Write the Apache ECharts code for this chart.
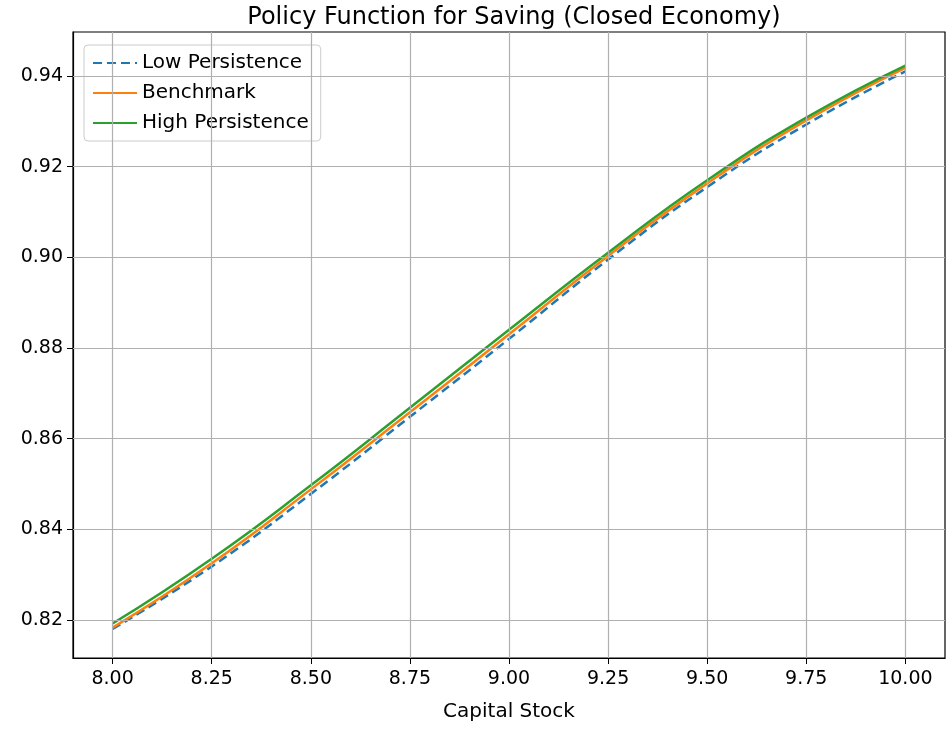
<!DOCTYPE html>
<html><head><meta charset="utf-8">
<script src="https://cdn.jsdelivr.net/npm/echarts@6/dist/echarts.min.js"></script>
<style>html,body{margin:0;padding:0;background:#fff}#c{width:950px;height:731px}</style>
</head><body><div id="c"></div>
<script>
const capital = [8.0, 8.25, 8.5, 8.75, 9.0, 9.25, 9.5, 9.75, 10.0];
const lowPersistence = [0.8180, 0.8318, 0.8478, 0.8648, 0.8820, 0.8995, 0.9155, 0.9293, 0.9410];
const benchmark = [0.8183, 0.8325, 0.8488, 0.8658, 0.8830, 0.9003, 0.9163, 0.9302, 0.9418];
const highPersistence = [0.8192, 0.8335, 0.8497, 0.8668, 0.8840, 0.9010, 0.9170, 0.9308, 0.9423];
const xTicks = ['8.00','8.25','8.50','8.75','9.00','9.25','9.50','9.75','10.00'];
const yTicks = [0.82,0.84,0.86,0.88,0.90,0.92,0.94];

const font = 'DejaVu Sans';
const mk = (name, ys, color, type) => ({
  name, type: 'line', smooth: true, symbol: 'none',
  data: capital.map((x, i) => [x, ys[i]]),
  lineStyle: { color, width: 2.5, type },
  itemStyle: { color }
});
const chart = echarts.init(document.getElementById('c'));
chart.setOption({
  animation: false,
  textStyle: { fontFamily: font },
  title: { text: 'Policy Function for Saving (Closed Economy)', left: 509, textAlign: 'center', top: 1,
    textStyle: { fontFamily: font, fontSize: 24, fontWeight: 'normal', color: '#000' } },
  grid: { left: 73, right: 5, top: 32, bottom: 73, show: true, borderColor: '#000', borderWidth: 1.2, backgroundColor: 'transparent' },
  legend: { orient: 'vertical', left: 84, top: 45, padding: [8, 12, 8, 8], itemGap: 10,
    borderColor: '#ccc', borderWidth: 1, borderRadius: 4, itemWidth: 44, itemHeight: 14,
    itemStyle: { opacity: 0 },
    textStyle: { fontFamily: font, fontSize: 20, color: '#000' },
    data: ['Low Persistence', 'Benchmark', 'High Persistence'] },
  xAxis: { type: 'value', min: 7.9, max: 10.1,
    name: 'Capital Stock', nameLocation: 'middle', nameGap: 44,
    nameTextStyle: { fontFamily: font, fontSize: 20, color: '#000' },
    axisLine: { onZero: false, lineStyle: { color: '#000', width: 1.2 } },
    axisTick: { show: true, length: 6, customValues: capital, lineStyle: { color: '#000' } },
    axisLabel: { fontFamily: font, fontSize: 19, color: '#000', margin: 12,
      customValues: capital, formatter: v => xTicks[Math.round((v - 8) / 0.25)] || '' },
    splitLine: { show: false } },
  yAxis: { type: 'value', min: 0.8116, max: 0.9497,
    axisLine: { show: true, lineStyle: { color: '#000', width: 1.2 } },
    axisTick: { show: true, length: 6, customValues: yTicks, lineStyle: { color: '#000' } },
    axisLabel: { fontFamily: font, fontSize: 19, color: '#000', margin: 10,
      customValues: yTicks, formatter: v => v.toFixed(2) },
    splitLine: { show: false } },
  series: [
    { type: 'line', silent: true, data: [], markLine: { symbol: 'none', silent: true, label: { show: false },
      lineStyle: { color: '#b0b0b0', width: 1.2, type: 'solid' },
      data: capital.map(x => ({ xAxis: x })).concat(yTicks.map(y => ({ yAxis: y }))) } },
    mk('Low Persistence', lowPersistence, '#1f77b4', [9, 5]),
    mk('Benchmark', benchmark, '#ff7f0e', 'solid'),
    mk('High Persistence', highPersistence, '#2ca02c', 'solid')
  ]
});
</script></body></html>
